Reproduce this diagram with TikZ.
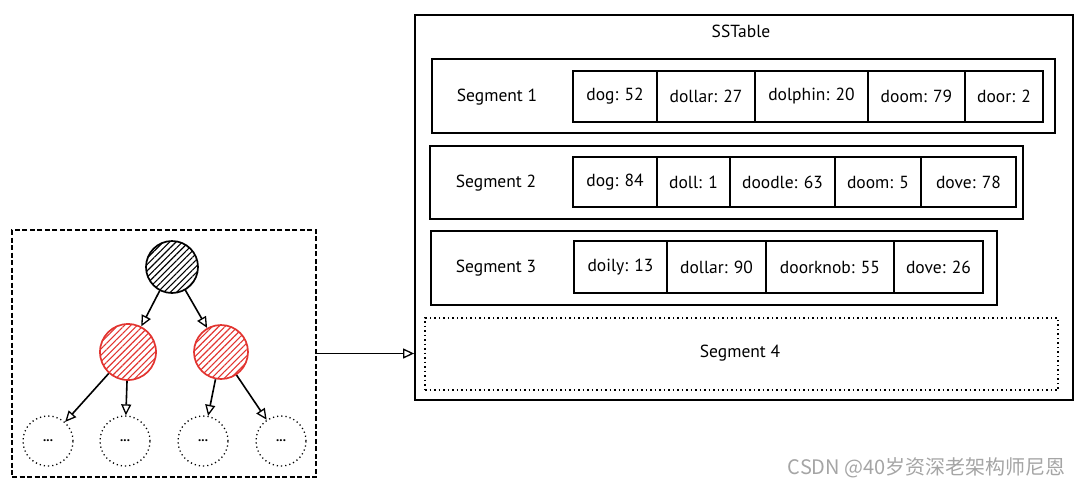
\documentclass[tikz,border=0pt]{standalone}
\usepackage{fontspec}
\setmainfont{PT Sans}
\newfontfamily\cjkfont{Noto Sans CJK SC}
\usetikzlibrary{arrows.meta,patterns,patterns.meta}
\definecolor{sketchred}{RGB}{226,52,48}
\definecolor{wmgray}{RGB}{165,165,165}
\begin{document}
\begin{tikzpicture}[x=1pt,y=-1pt,
  box/.style={draw, line width=1.8pt, inner sep=0pt},
  cell/.style={draw, line width=1.6pt, inner sep=0pt, font=\fontsize{17.5}{20}\selectfont},
  lbl/.style={inner sep=0pt, font=\fontsize{17.5}{20}\selectfont},
  arr/.style={line width=1.6pt, -{Triangle[open,length=11pt,width=10pt,line width=1.3pt]}},
  treenode/.style={circle, inner sep=0pt, line width=1.7pt},
  hatchb/.style={pattern={Lines[angle=45,distance=4.5pt,line width=1.1pt]}, pattern color=black},
  hatchr/.style={pattern={Lines[angle=45,distance=4.5pt,line width=1.1pt]}, pattern color=sketchred},
  leaf/.style={circle, draw, dash pattern=on 1.2pt off 3pt, line width=1.3pt, inner sep=0pt, minimum size=50pt, font=\bfseries\fontsize{13}{14}\selectfont}]
\useasboundingbox (0,0) rectangle (1080,488);
% left dashed frame
\node[box, dash pattern=on 5pt off 2.5pt, line width=1.7pt, minimum width=304pt, minimum height=247pt] (lbox) at (164,353.5) {};
% tree
\node[treenode, draw=black, hatchb, minimum size=52pt] (root) at (172,267) {};
\node[treenode, draw=sketchred, hatchr, minimum size=56pt] (redl) at (128,352) {};
\node[treenode, draw=sketchred, hatchr, minimum size=54pt] (redr) at (221,352) {};
\node[leaf] (d1) at (48,441) {...};
\node[leaf] (d2) at (125,441) {...};
\node[leaf] (d3) at (203,441) {...};
\node[leaf] (d4) at (281,441) {...};
\draw[arr] (root) -- (redl);
\draw[arr] (root) -- (redr);
\draw[arr] (redl) -- (d1);
\draw[arr] (redl) -- (d2);
\draw[arr] (redr) -- (d3);
\draw[arr] (redr) -- (d4);
% SSTable
\node[box, minimum width=658pt, minimum height=385pt] (sst) at (744,207.5) {};
\node[lbl] (sstlabel) at (741,31) {SSTable};
\draw[arr] (lbox.east) -- (lbox.east -| sst.west);
% Segment 1
\node[box, minimum width=623pt, minimum height=74pt] (seg1) at (743.5,96) {};
\node[lbl] (seg1l) at (497,97) {Segment 1};
\node[cell, minimum width=84pt, minimum height=51pt] (s1a) at (615,96.5) {dog: 52};
\node[cell, minimum width=98pt, minimum height=51pt] (s1b) at (706,96.5) {dollar: 27};
\node[cell, minimum width=113pt, minimum height=51pt] (s1c) at (811.5,96.5) {dolphin: 20};
\node[cell, minimum width=97pt, minimum height=51pt] (s1d) at (916.5,96.5) {doom: 79};
\node[cell, minimum width=78pt, minimum height=51pt] (s1e) at (1004,96.5) {door: 2};
% Segment 2
\node[box, minimum width=593pt, minimum height=73pt] (seg2) at (726.5,182.5) {};
\node[lbl] (seg2l) at (496,183) {Segment 2};
\node[cell, minimum width=84pt, minimum height=50pt] (s2a) at (615,182) {dog: 84};
\node[cell, minimum width=73pt, minimum height=50pt] (s2b) at (693.5,182) {doll: 1};
\node[cell, minimum width=105pt, minimum height=50pt] (s2c) at (782.5,182) {doodle: 63};
\node[cell, minimum width=86pt, minimum height=50pt] (s2d) at (878,182) {doom: 5};
\node[cell, minimum width=95pt, minimum height=50pt] (s2e) at (968.5,182) {dove: 78};
% Segment 3
\node[box, minimum width=566pt, minimum height=74pt] (seg3) at (714,268) {};
\node[lbl] (seg3l) at (496,268) {Segment 3};
\node[cell, minimum width=93pt, minimum height=52pt] (s3a) at (620.5,267) {doily: 13};
\node[cell, minimum width=99pt, minimum height=52pt] (s3b) at (716.5,267) {dollar: 90};
\node[cell, minimum width=128pt, minimum height=52pt] (s3c) at (830,267) {doorknob: 55};
\node[cell, minimum width=89pt, minimum height=52pt] (s3d) at (938.5,267) {dove: 26};
% Segment 4
\node[box, dash pattern=on 1.5pt off 3pt, line width=1.6pt, minimum width=633pt, minimum height=72pt] (seg4) at (741.5,354) {};
\node[lbl] (seg4l) at (740,353) {Segment 4};
% watermark
\node[inner sep=0pt, anchor=east, text=wmgray, font=\cjkfont\fontsize{20}{23}\selectfont] (wm) at (1066,468) {CSDN @40岁资深老架构师尼恩};
\end{tikzpicture}
\end{document}
